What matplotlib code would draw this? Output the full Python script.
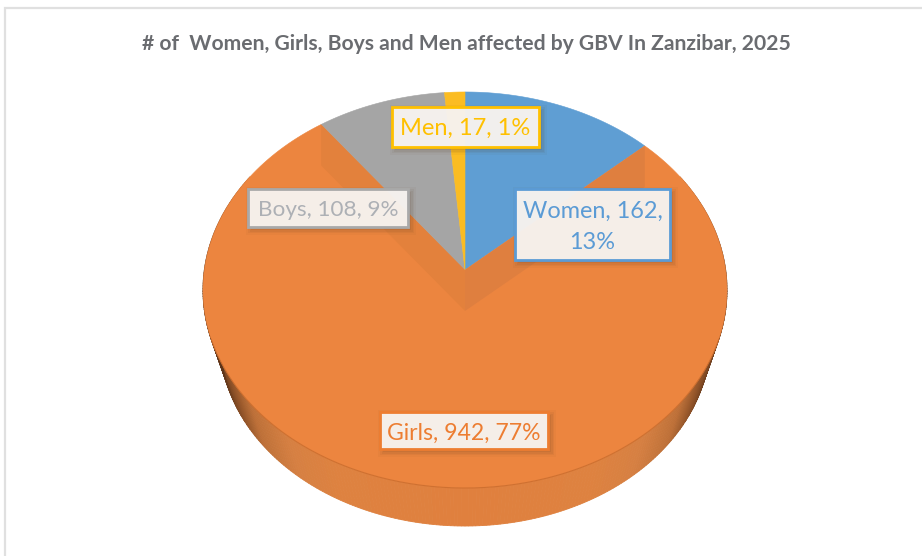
import numpy as np
import matplotlib
matplotlib.use('Agg')
import matplotlib.pyplot as plt
from matplotlib.patches import Polygon, Rectangle

labels = ['Women', 'Girls', 'Boys', 'Men']
values = [162, 942, 108, 17]
percents = [13, 77, 9, 1]
colors = ['#5F9ED3', '#EC853F', '#A5A5A5', '#FBBC22']
text_colors = ['#5B9BD5', '#ED7D31', '#ADB0B5', '#FFC000']
title = '# of  Women, Girls, Boys and Men affected by GBV In Zanzibar, 2025'

# pie is drawn in pixels, the circle goes through a small perspective
CX, CY = 465, 270
A, B, K = 260.7, 196, 0.101
DEPTH = 41


def project(theta):
    u = np.sin(theta)
    v = np.cos(theta)
    w = 1 + K * v
    return CX + A * u / w, CY - B * v / w


def project_bottom(theta):
    x, y = project(theta)
    return CX + (x - CX) * 245 / 262, 340 + (y - 290) * 186 / 198


def side_color(x):
    t = abs(x - CX) / 262
    r = np.interp(t, [0, 0.5, 0.68, 0.82, 0.92, 1], [224, 222, 214, 190, 135, 85])
    g = np.interp(t, [0, 0.5, 0.68, 0.82, 0.92, 1], [128, 130, 128, 112, 78, 48])
    b = np.interp(t, [0, 0.5, 0.68, 0.82, 0.92, 1], [62, 64, 66, 56, 38, 24])
    return (r / 255, g / 255, b / 255)


fig = plt.figure(figsize=(9.22, 5.56), dpi=100)
ax = fig.add_axes([0, 0, 1, 1])
ax.set_xlim(0, 922)
ax.set_ylim(556, 0)
ax.axis('off')

# chart frame, only left and top are in the crop
ax.plot([5, 5, 922], [556, 8, 8], color='#E0E0E0', lw=1.6, solid_joinstyle='miter')

ax.text(466, 44.5, title, family='Lato', weight='bold', fontsize=15.25,
        color='#6A6C70', ha='center', va='center')

edges = np.radians(np.concatenate([[0], np.cumsum(values)]) / sum(values) * 360)

# side of the disc
strip = np.radians(np.arange(60, 300.5, 0.75))
for t0, t1 in zip(strip[:-1], strip[1:]):
    x0, y0 = project(t0)
    x1, y1 = project(t1)
    x2, y2 = project_bottom(t1)
    x3, y3 = project_bottom(t0)
    c = side_color((x0 + x1) / 2)
    ax.add_patch(Polygon([(x0, y0), (x1, y1), (x2, y2), (x3, y3)], closed=True,
                         fc=c, ec=c, lw=0.6, zorder=2))

# top face
for i in range(len(values)):
    th = np.linspace(edges[i], edges[i + 1], 200)
    x, y = project(th)
    pts = [(CX, CY)] + list(zip(x, y))
    ax.add_patch(Polygon(pts, closed=True, fc=colors[i], ec=colors[i], lw=0.4, zorder=3))

# walls seen inside the big slice
xw, yw = project(edges[1])
ax.add_patch(Polygon([(CX, CY), (xw, yw), (xw, yw + DEPTH), (CX, CY + DEPTH)],
                     closed=True, fc='#DF7F3F', ec='none', zorder=4))
xw, yw = project(edges[2])
ax.add_patch(Polygon([(CX, CY), (xw, yw), (xw, yw + DEPTH), (CX, CY + DEPTH)],
                     closed=True, fc='#E3813C', ec='none', zorder=4))

# dark seam on the front rim
th = np.radians(np.linspace(110, 250, 200))
x, y = project(th)
ax.plot(x, y, color='#C4682A', lw=0.8, alpha=0.7, zorder=4)

# data labels
boxes = [(515, 189, 155, 71), (380, 412, 168, 37), (248, 189, 160, 38), (392, 107, 147, 40)]
text_y = [227, 433, 210, 128.5]
sizes = [16.9, 16.6, 16.2, 17.0]
for i in range(len(values)):
    bx, by, bw, bh = boxes[i]
    for grow, alpha in [(5, 0.04), (3, 0.06), (1.5, 0.07), (0, 0.09)]:
        ax.add_patch(Rectangle((bx + 3 - grow, by + 3 - grow), bw + 2 * grow, bh + 2 * grow,
                               fc='#5A3A20', ec='none', alpha=alpha, zorder=5))
    ax.add_patch(Rectangle((bx, by), bw, bh, fc='#F8F4F1', ec='none', alpha=0.96, zorder=6))
    ax.add_patch(Rectangle((bx, by), bw, bh, fc='none', ec=text_colors[i] if i != 2 else '#A9A9A9',
                           lw=2.0, zorder=7))
    s = f'{labels[i]}, {values[i]}, {percents[i]}%'
    if labels[i] == 'Women':
        s = f'{labels[i]}, {values[i]},\n{percents[i]}%'
    ax.text(bx + bw / 2, text_y[i], s, family='Lato', fontsize=sizes[i], color=text_colors[i],
            ha='center', va='center', linespacing=1.55, zorder=8)

fig.savefig('out.png', dpi=100)
